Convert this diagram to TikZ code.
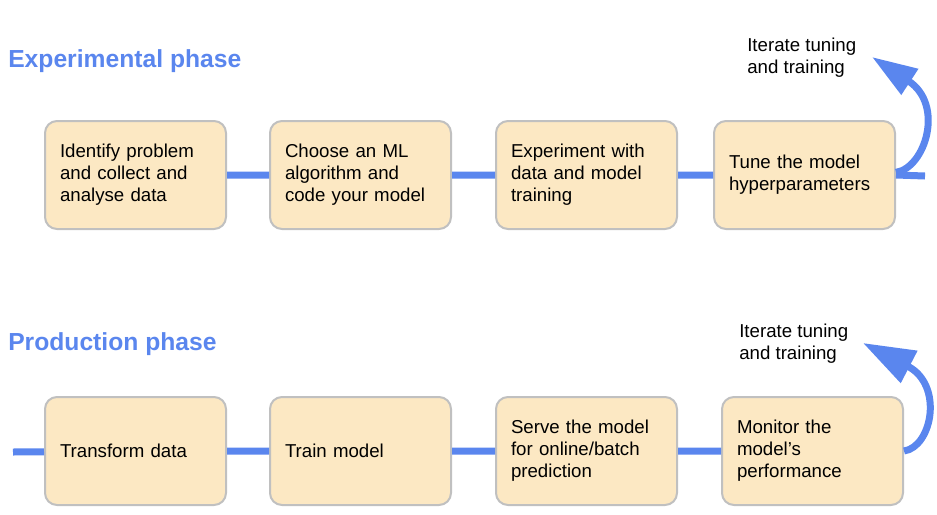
\documentclass[tikz,border=0pt]{standalone}
\usepackage{fontspec}
\setmainfont{Liberation Sans}
\usetikzlibrary{arrows.meta}
\definecolor{flowblue}{RGB}{90,134,238}
\definecolor{boxfill}{RGB}{252,232,195}
\definecolor{boxline}{RGB}{192,192,192}
\begin{document}
\begin{tikzpicture}[
x=0.75pt,y=-0.75pt,
stage/.style={draw=boxline,line width=1.5pt,fill=boxfill,rounded corners=9pt,
  minimum width=135.75pt,minimum height=81pt,text width=113.25pt,
  inner xsep=11.25pt,align=left,font=\fontsize{14}{16.5}\selectfont},
flow/.style={draw=flowblue,line width=5.25pt},
loop/.style={flow,-{Triangle[length=34pt,width=22pt]}},
phase/.style={text=flowblue,font=\fontsize{18.5}{22}\selectfont\bfseries,inner sep=0pt},
note/.style={align=left,inner sep=0pt,font=\fontsize{14}{16.5}\selectfont},
]
\useasboundingbox (0,0) rectangle (937,514);
% titles
\node[phase,anchor=base west] (exptitle) at (8,67) {Experimental phase};
\node[phase,anchor=base west] (prodtitle) at (8,350) {Production phase};
% experimental row
\node[stage] (e1) at (135.5,175) {Identify problem\\and collect and\\analyse data};
\node[stage] (e2) at (360.5,175) {Choose an ML\\algorithm and\\code your model};
\node[stage] (e3) at (586.5,175) {Experiment with\\data and model\\training};
\node[stage] (e4) at (804.5,175) {Tune the model\\hyperparameters};
% production row
\node[stage] (p1) at (135.5,451) {Transform data};
\node[stage] (p2) at (360.5,451) {Train model};
\node[stage] (p3) at (586.5,451) {Serve the model\\for online/batch\\prediction};
\node[stage] (p4) at (812.5,451) {Monitor the\\model's\\performance};
% loop labels
\node[note,anchor=west] (enote) at (747,58) {Iterate tuning\\and training};
\node[note,anchor=west] (pnote) at (739,344) {Iterate tuning\\and training};
\coordinate (eend) at (925,176);
\coordinate (etip) at (872,57);
\coordinate (pstart) at (13,452);
\coordinate (ptip) at (863,343);
% connectors
\draw[flow] (e1) -- (e2) (e2) -- (e3) (e3) -- (e4) (e4.east) -- (eend);
\draw[flow] (pstart) -- (p1) (p1) -- (p2) (p2) -- (p3) (p3) -- (p4);
\draw[loop] ([yshift=2pt]e4.east) .. controls (925,168) and (945,105) .. (etip);
\draw[loop,-{Triangle[length=39pt,width=26pt]}] (p4.east) .. controls (932,447) and (944,385) .. (ptip);
\end{tikzpicture}
\end{document}
